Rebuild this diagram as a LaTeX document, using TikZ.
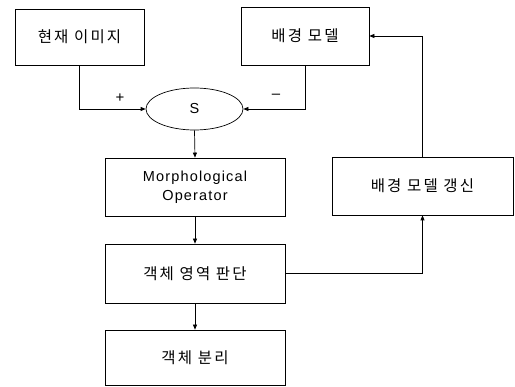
\documentclass[tikz,border=0pt]{standalone}
\usepackage{fontspec}
\setmainfont{Liberation Sans}
\newfontfamily\kr[LetterSpace=14]{Noto Sans CJK KR}
\newfontfamily\lat[LetterSpace=8]{Liberation Sans}
\usetikzlibrary{arrows.meta,shapes.geometric}
\begin{document}
\begin{tikzpicture}[x=1pt,y=1pt,
  blk/.style={draw,line width=0.7pt,rectangle,inner sep=0pt,align=center},
  conn/.style={line width=0.7pt},
  arr/.style={conn,-{Triangle[length=5pt,width=4pt]}},
  kfont/.style={font=\kr\fontsize{15.5}{18}\selectfont},
  lbl/.style={font=\lat\fontsize{15}{17}\selectfont}]
\useasboundingbox[fill=white] (0,0) rectangle (515,-387);
\node[blk,kfont,minimum width=129pt,minimum height=56pt] (cur) at (79.5,-37) {현재 이미지};
\node[blk,kfont,minimum width=128pt,minimum height=58pt] (bg) at (305,-36) {배경 모델};
\node[draw,line width=0.7pt,ellipse,minimum width=97pt,minimum height=42pt,inner sep=0pt,font=\lat\fontsize{14.5}{17}\selectfont] (S) at (194.5,-109) {S};
\node[blk,minimum width=180pt,minimum height=58pt,font=\lat\fontsize{14.5}{19}\selectfont] (morph) at (195,-187) {Morphological\\Operator};
\node[blk,kfont,minimum width=180pt,minimum height=59pt] (judge) at (195,-273.5) {객체 영역 판단};
\node[blk,kfont,minimum width=180pt,minimum height=55pt] (sep) at (195,-357.5) {객체 분리};
\node[blk,kfont,minimum width=181pt,minimum height=58pt] (upd) at (422.5,-186) {배경 모델 갱신};
\draw[arr] (cur.south) |- (S.west);
\draw[arr] (bg.south) |- (S.east);
\node[lbl] (plus) at (120,-98) {+};
\node[lbl] (minus) at (276,-96) {–};
\draw[arr] (S.south) -- (morph.north);
\draw[arr] (morph.south) -- (judge.north);
\draw[arr] (judge.south) -- (sep.north);
\draw[arr] (judge.east) -| (upd.south);
\draw[arr] (upd.north) |- (bg.east);
\end{tikzpicture}
\end{document}
